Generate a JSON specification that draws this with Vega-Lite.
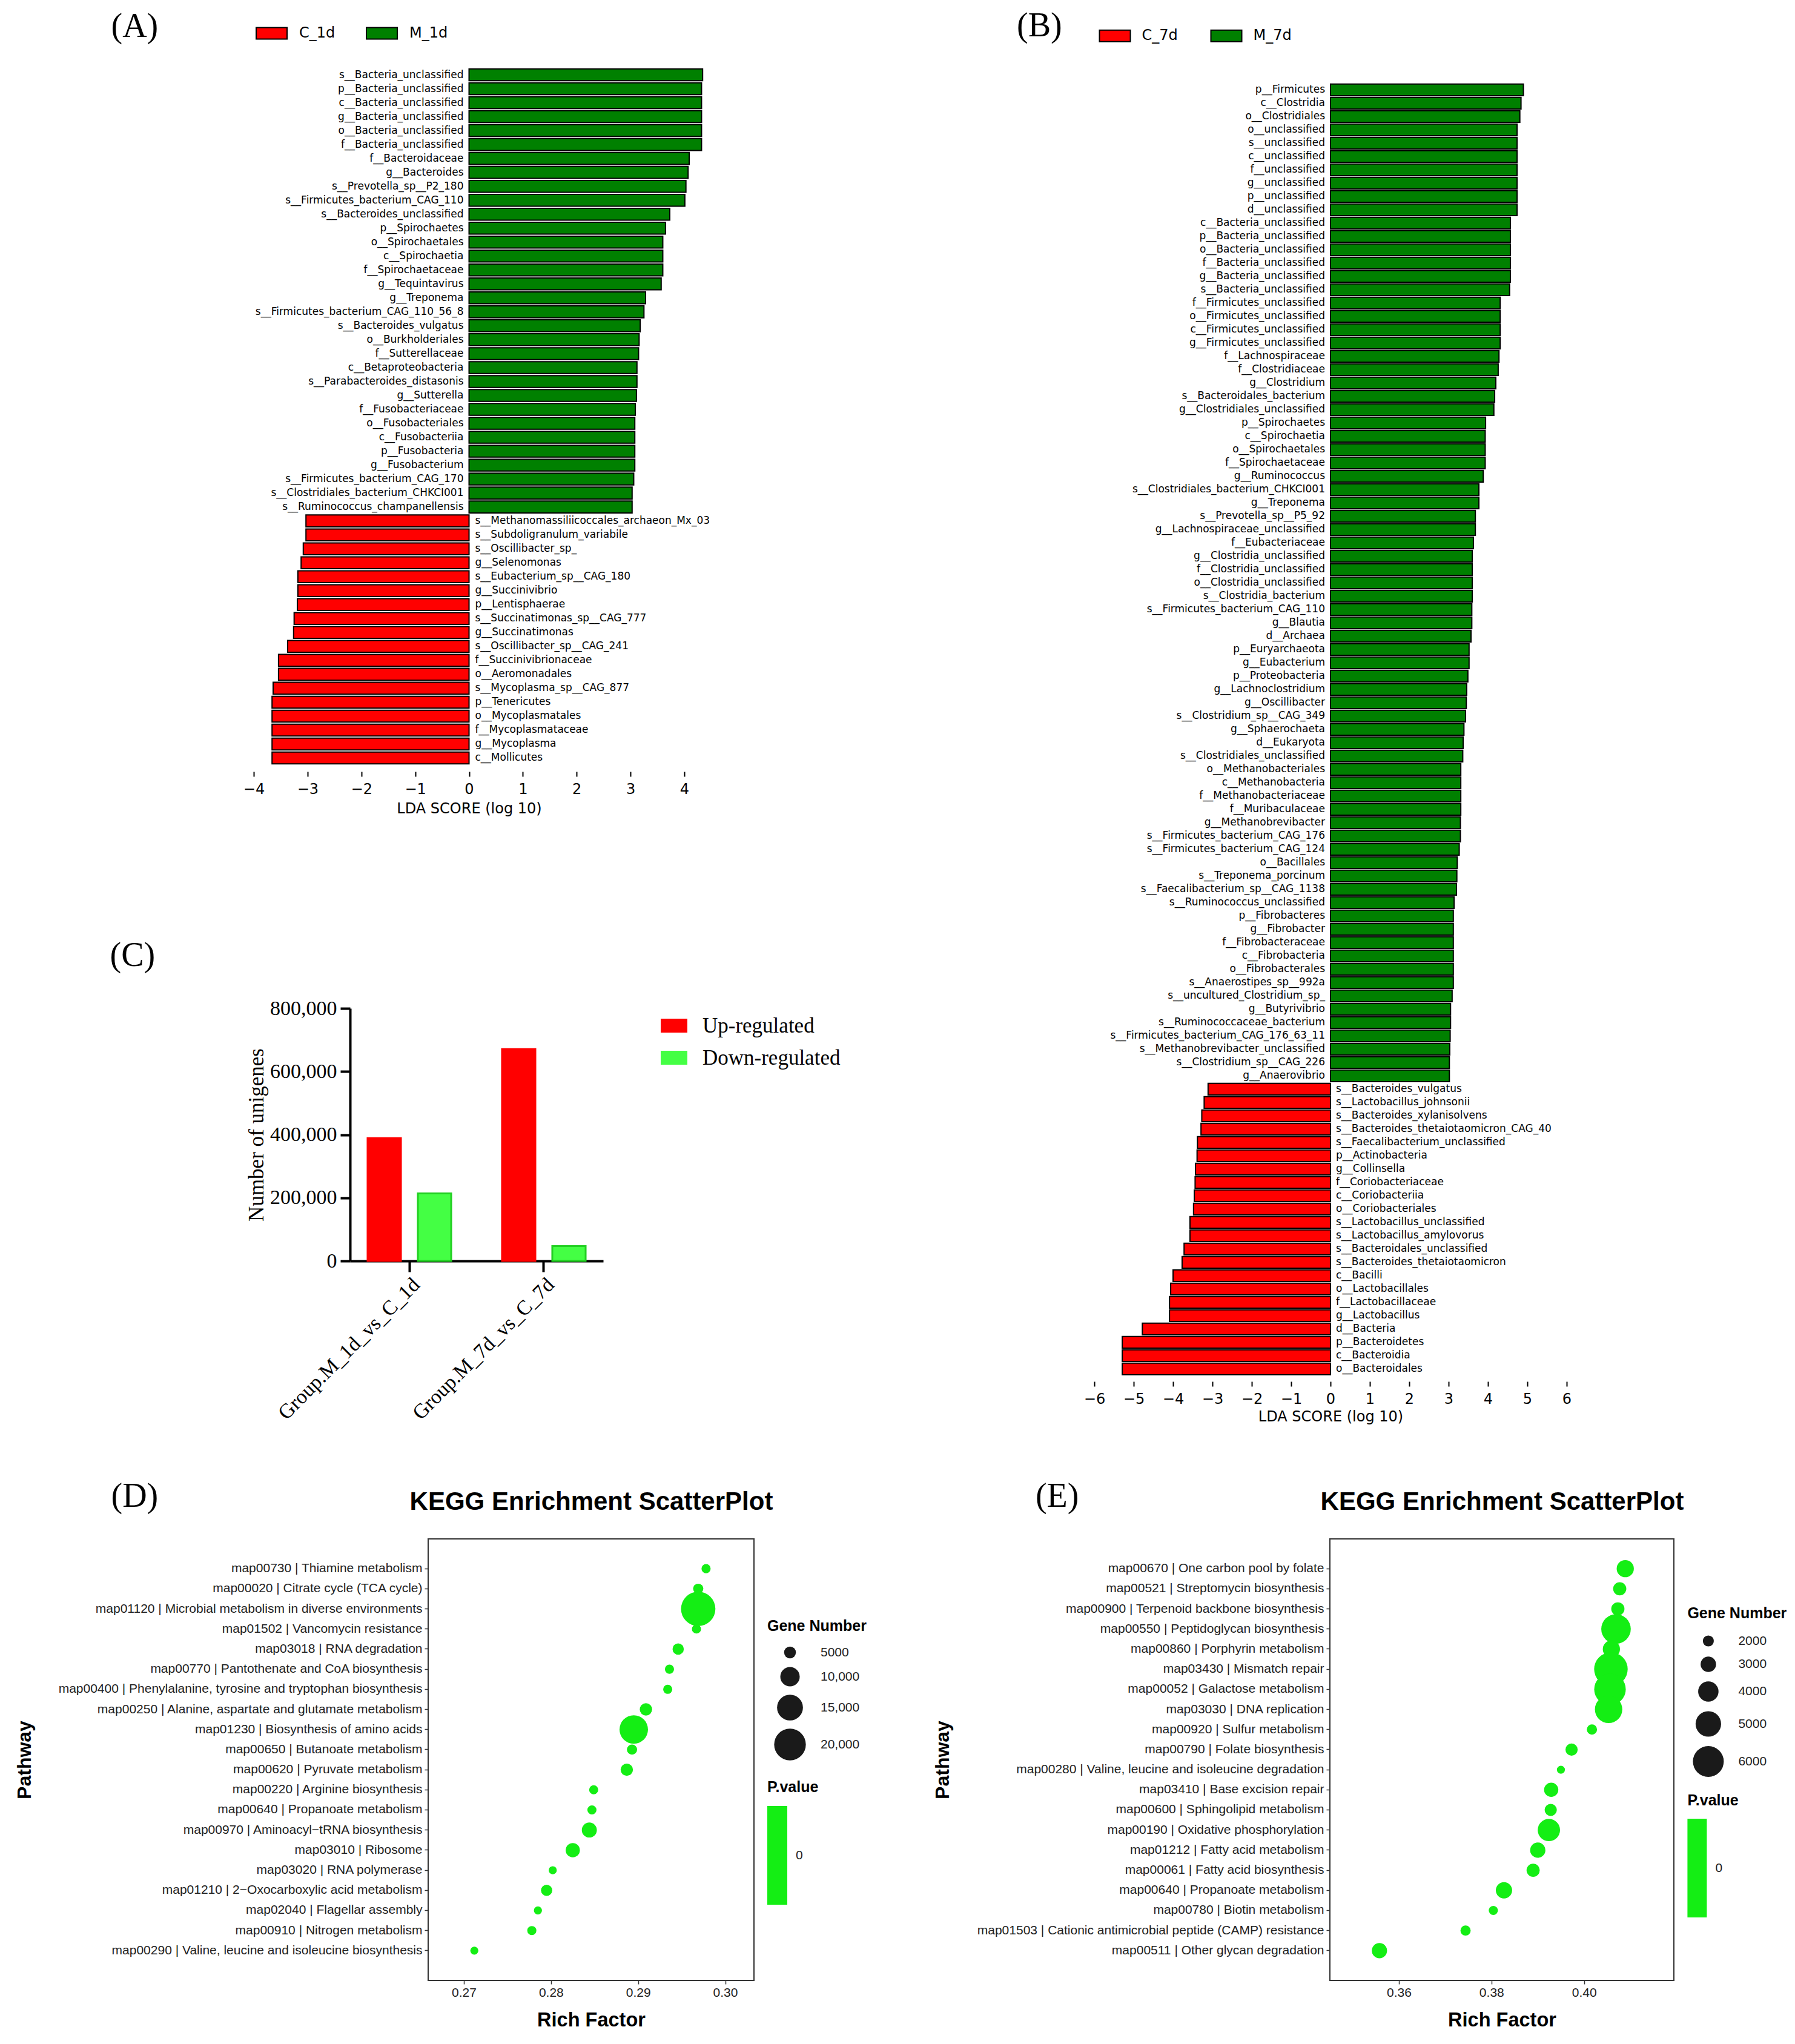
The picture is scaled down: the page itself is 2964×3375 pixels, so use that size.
{
"$schema": "https://vega.github.io/schema/vega-lite/v6.json",
"background": "white",
"padding": {"left": 23, "top": 14, "right": 5, "bottom": 5},
"usermeta": {"embedOptions": {"actions": false}},
"config": {
  "view": {"stroke": null},
  "axis": {"grid": false, "labelFlush": false, "labelOverlap": false, "labelLimit": 0},
  "legend": {"labelLimit": 0}
},
"datasets": {
"lefseA": [
{"taxon":"s__Bacteria_unclassified","lda":4.34,"group":"M_1d"},
{"taxon":"p__Bacteria_unclassified","lda":4.32,"group":"M_1d"},
{"taxon":"c__Bacteria_unclassified","lda":4.32,"group":"M_1d"},
{"taxon":"g__Bacteria_unclassified","lda":4.32,"group":"M_1d"},
{"taxon":"o__Bacteria_unclassified","lda":4.32,"group":"M_1d"},
{"taxon":"f__Bacteria_unclassified","lda":4.32,"group":"M_1d"},
{"taxon":"f__Bacteroidaceae","lda":4.09,"group":"M_1d"},
{"taxon":"g__Bacteroides","lda":4.07,"group":"M_1d"},
{"taxon":"s__Prevotella_sp__P2_180","lda":4.03,"group":"M_1d"},
{"taxon":"s__Firmicutes_bacterium_CAG_110","lda":4.01,"group":"M_1d"},
{"taxon":"s__Bacteroides_unclassified","lda":3.73,"group":"M_1d"},
{"taxon":"p__Spirochaetes","lda":3.65,"group":"M_1d"},
{"taxon":"o__Spirochaetales","lda":3.6,"group":"M_1d"},
{"taxon":"c__Spirochaetia","lda":3.6,"group":"M_1d"},
{"taxon":"f__Spirochaetaceae","lda":3.6,"group":"M_1d"},
{"taxon":"g__Tequintavirus","lda":3.57,"group":"M_1d"},
{"taxon":"g__Treponema","lda":3.28,"group":"M_1d"},
{"taxon":"s__Firmicutes_bacterium_CAG_110_56_8","lda":3.25,"group":"M_1d"},
{"taxon":"s__Bacteroides_vulgatus","lda":3.18,"group":"M_1d"},
{"taxon":"o__Burkholderiales","lda":3.16,"group":"M_1d"},
{"taxon":"f__Sutterellaceae","lda":3.15,"group":"M_1d"},
{"taxon":"c__Betaproteobacteria","lda":3.12,"group":"M_1d"},
{"taxon":"s__Parabacteroides_distasonis","lda":3.12,"group":"M_1d"},
{"taxon":"g__Sutterella","lda":3.11,"group":"M_1d"},
{"taxon":"f__Fusobacteriaceae","lda":3.09,"group":"M_1d"},
{"taxon":"o__Fusobacteriales","lda":3.08,"group":"M_1d"},
{"taxon":"c__Fusobacteriia","lda":3.08,"group":"M_1d"},
{"taxon":"p__Fusobacteria","lda":3.08,"group":"M_1d"},
{"taxon":"g__Fusobacterium","lda":3.08,"group":"M_1d"},
{"taxon":"s__Firmicutes_bacterium_CAG_170","lda":3.06,"group":"M_1d"},
{"taxon":"s__Clostridiales_bacterium_CHKCI001","lda":3.03,"group":"M_1d"},
{"taxon":"s__Ruminococcus_champanellensis","lda":3.03,"group":"M_1d"},
{"taxon":"s__Methanomassiliicoccales_archaeon_Mx_03","lda":-3.03,"group":"C_1d"},
{"taxon":"s__Subdoligranulum_variabile","lda":-3.03,"group":"C_1d"},
{"taxon":"s__Oscillibacter_sp_","lda":-3.08,"group":"C_1d"},
{"taxon":"g__Selenomonas","lda":-3.12,"group":"C_1d"},
{"taxon":"s__Eubacterium_sp__CAG_180","lda":-3.18,"group":"C_1d"},
{"taxon":"g__Succinivibrio","lda":-3.18,"group":"C_1d"},
{"taxon":"p__Lentisphaerae","lda":-3.19,"group":"C_1d"},
{"taxon":"s__Succinatimonas_sp__CAG_777","lda":-3.25,"group":"C_1d"},
{"taxon":"g__Succinatimonas","lda":-3.26,"group":"C_1d"},
{"taxon":"s__Oscillibacter_sp__CAG_241","lda":-3.37,"group":"C_1d"},
{"taxon":"f__Succinivibrionaceae","lda":-3.54,"group":"C_1d"},
{"taxon":"o__Aeromonadales","lda":-3.54,"group":"C_1d"},
{"taxon":"s__Mycoplasma_sp__CAG_877","lda":-3.64,"group":"C_1d"},
{"taxon":"p__Tenericutes","lda":-3.66,"group":"C_1d"},
{"taxon":"o__Mycoplasmatales","lda":-3.66,"group":"C_1d"},
{"taxon":"f__Mycoplasmataceae","lda":-3.66,"group":"C_1d"},
{"taxon":"g__Mycoplasma","lda":-3.66,"group":"C_1d"},
{"taxon":"c__Mollicutes","lda":-3.66,"group":"C_1d"}
],
"lefseB": [
{"taxon":"p__Firmicutes","lda":4.9,"group":"M_7d"},
{"taxon":"c__Clostridia","lda":4.84,"group":"M_7d"},
{"taxon":"o__Clostridiales","lda":4.81,"group":"M_7d"},
{"taxon":"o__unclassified","lda":4.74,"group":"M_7d"},
{"taxon":"s__unclassified","lda":4.74,"group":"M_7d"},
{"taxon":"c__unclassified","lda":4.74,"group":"M_7d"},
{"taxon":"f__unclassified","lda":4.74,"group":"M_7d"},
{"taxon":"g__unclassified","lda":4.74,"group":"M_7d"},
{"taxon":"p__unclassified","lda":4.74,"group":"M_7d"},
{"taxon":"d__unclassified","lda":4.74,"group":"M_7d"},
{"taxon":"c__Bacteria_unclassified","lda":4.57,"group":"M_7d"},
{"taxon":"p__Bacteria_unclassified","lda":4.57,"group":"M_7d"},
{"taxon":"o__Bacteria_unclassified","lda":4.57,"group":"M_7d"},
{"taxon":"f__Bacteria_unclassified","lda":4.57,"group":"M_7d"},
{"taxon":"g__Bacteria_unclassified","lda":4.57,"group":"M_7d"},
{"taxon":"s__Bacteria_unclassified","lda":4.55,"group":"M_7d"},
{"taxon":"f__Firmicutes_unclassified","lda":4.31,"group":"M_7d"},
{"taxon":"o__Firmicutes_unclassified","lda":4.31,"group":"M_7d"},
{"taxon":"c__Firmicutes_unclassified","lda":4.31,"group":"M_7d"},
{"taxon":"g__Firmicutes_unclassified","lda":4.31,"group":"M_7d"},
{"taxon":"f__Lachnospiraceae","lda":4.28,"group":"M_7d"},
{"taxon":"f__Clostridiaceae","lda":4.26,"group":"M_7d"},
{"taxon":"g__Clostridium","lda":4.2,"group":"M_7d"},
{"taxon":"s__Bacteroidales_bacterium","lda":4.17,"group":"M_7d"},
{"taxon":"g__Clostridiales_unclassified","lda":4.15,"group":"M_7d"},
{"taxon":"p__Spirochaetes","lda":3.94,"group":"M_7d"},
{"taxon":"c__Spirochaetia","lda":3.93,"group":"M_7d"},
{"taxon":"o__Spirochaetales","lda":3.93,"group":"M_7d"},
{"taxon":"f__Spirochaetaceae","lda":3.93,"group":"M_7d"},
{"taxon":"g__Ruminococcus","lda":3.88,"group":"M_7d"},
{"taxon":"s__Clostridiales_bacterium_CHKCI001","lda":3.77,"group":"M_7d"},
{"taxon":"g__Treponema","lda":3.77,"group":"M_7d"},
{"taxon":"s__Prevotella_sp__P5_92","lda":3.68,"group":"M_7d"},
{"taxon":"g__Lachnospiraceae_unclassified","lda":3.68,"group":"M_7d"},
{"taxon":"f__Eubacteriaceae","lda":3.63,"group":"M_7d"},
{"taxon":"g__Clostridia_unclassified","lda":3.6,"group":"M_7d"},
{"taxon":"f__Clostridia_unclassified","lda":3.6,"group":"M_7d"},
{"taxon":"o__Clostridia_unclassified","lda":3.6,"group":"M_7d"},
{"taxon":"s__Clostridia_bacterium","lda":3.6,"group":"M_7d"},
{"taxon":"s__Firmicutes_bacterium_CAG_110","lda":3.59,"group":"M_7d"},
{"taxon":"g__Blautia","lda":3.59,"group":"M_7d"},
{"taxon":"d__Archaea","lda":3.57,"group":"M_7d"},
{"taxon":"p__Euryarchaeota","lda":3.52,"group":"M_7d"},
{"taxon":"g__Eubacterium","lda":3.52,"group":"M_7d"},
{"taxon":"p__Proteobacteria","lda":3.49,"group":"M_7d"},
{"taxon":"g__Lachnoclostridium","lda":3.46,"group":"M_7d"},
{"taxon":"g__Oscillibacter","lda":3.45,"group":"M_7d"},
{"taxon":"s__Clostridium_sp__CAG_349","lda":3.43,"group":"M_7d"},
{"taxon":"g__Sphaerochaeta","lda":3.39,"group":"M_7d"},
{"taxon":"d__Eukaryota","lda":3.37,"group":"M_7d"},
{"taxon":"s__Clostridiales_unclassified","lda":3.36,"group":"M_7d"},
{"taxon":"o__Methanobacteriales","lda":3.31,"group":"M_7d"},
{"taxon":"c__Methanobacteria","lda":3.31,"group":"M_7d"},
{"taxon":"f__Methanobacteriaceae","lda":3.31,"group":"M_7d"},
{"taxon":"f__Muribaculaceae","lda":3.31,"group":"M_7d"},
{"taxon":"g__Methanobrevibacter","lda":3.3,"group":"M_7d"},
{"taxon":"s__Firmicutes_bacterium_CAG_176","lda":3.3,"group":"M_7d"},
{"taxon":"s__Firmicutes_bacterium_CAG_124","lda":3.27,"group":"M_7d"},
{"taxon":"o__Bacillales","lda":3.22,"group":"M_7d"},
{"taxon":"s__Treponema_porcinum","lda":3.21,"group":"M_7d"},
{"taxon":"s__Faecalibacterium_sp__CAG_1138","lda":3.2,"group":"M_7d"},
{"taxon":"s__Ruminococcus_unclassified","lda":3.14,"group":"M_7d"},
{"taxon":"p__Fibrobacteres","lda":3.12,"group":"M_7d"},
{"taxon":"g__Fibrobacter","lda":3.12,"group":"M_7d"},
{"taxon":"f__Fibrobacteraceae","lda":3.12,"group":"M_7d"},
{"taxon":"c__Fibrobacteria","lda":3.12,"group":"M_7d"},
{"taxon":"o__Fibrobacterales","lda":3.12,"group":"M_7d"},
{"taxon":"s__Anaerostipes_sp__992a","lda":3.12,"group":"M_7d"},
{"taxon":"s__uncultured_Clostridium_sp_","lda":3.09,"group":"M_7d"},
{"taxon":"g__Butyrivibrio","lda":3.05,"group":"M_7d"},
{"taxon":"s__Ruminococcaceae_bacterium","lda":3.05,"group":"M_7d"},
{"taxon":"s__Firmicutes_bacterium_CAG_176_63_11","lda":3.04,"group":"M_7d"},
{"taxon":"s__Methanobrevibacter_unclassified","lda":3.03,"group":"M_7d"},
{"taxon":"s__Clostridium_sp__CAG_226","lda":3.02,"group":"M_7d"},
{"taxon":"g__Anaerovibrio","lda":3.02,"group":"M_7d"},
{"taxon":"s__Bacteroides_vulgatus","lda":-3.11,"group":"C_7d"},
{"taxon":"s__Lactobacillus_johnsonii","lda":-3.21,"group":"C_7d"},
{"taxon":"s__Bacteroides_xylanisolvens","lda":-3.27,"group":"C_7d"},
{"taxon":"s__Bacteroides_thetaiotaomicron_CAG_40","lda":-3.29,"group":"C_7d"},
{"taxon":"s__Faecalibacterium_unclassified","lda":-3.38,"group":"C_7d"},
{"taxon":"p__Actinobacteria","lda":-3.39,"group":"C_7d"},
{"taxon":"g__Collinsella","lda":-3.43,"group":"C_7d"},
{"taxon":"f__Coriobacteriaceae","lda":-3.44,"group":"C_7d"},
{"taxon":"c__Coriobacteriia","lda":-3.46,"group":"C_7d"},
{"taxon":"o__Coriobacteriales","lda":-3.48,"group":"C_7d"},
{"taxon":"s__Lactobacillus_unclassified","lda":-3.57,"group":"C_7d"},
{"taxon":"s__Lactobacillus_amylovorus","lda":-3.57,"group":"C_7d"},
{"taxon":"s__Bacteroidales_unclassified","lda":-3.72,"group":"C_7d"},
{"taxon":"s__Bacteroides_thetaiotaomicron","lda":-3.77,"group":"C_7d"},
{"taxon":"c__Bacilli","lda":-4.0,"group":"C_7d"},
{"taxon":"o__Lactobacillales","lda":-4.06,"group":"C_7d"},
{"taxon":"f__Lactobacillaceae","lda":-4.09,"group":"C_7d"},
{"taxon":"g__Lactobacillus","lda":-4.09,"group":"C_7d"},
{"taxon":"d__Bacteria","lda":-4.78,"group":"C_7d"},
{"taxon":"p__Bacteroidetes","lda":-5.29,"group":"C_7d"},
{"taxon":"c__Bacteroidia","lda":-5.29,"group":"C_7d"},
{"taxon":"o__Bacteroidales","lda":-5.29,"group":"C_7d"}
],
"degC": [
{"comparison":"Group.M_1d_vs_C_1d","regulation":"Up-regulated","count":389000},
{"comparison":"Group.M_1d_vs_C_1d","regulation":"Down-regulated","count":214000},
{"comparison":"Group.M_7d_vs_C_7d","regulation":"Up-regulated","count":671000},
{"comparison":"Group.M_7d_vs_C_7d","regulation":"Down-regulated","count":47000}
],
"keggD": [
{"pathway":"map00730 | Thiamine metabolism","rich":0.2978,"genes":3522,"pvalue":0},
{"pathway":"map00020 | Citrate cycle (TCA cycle)","rich":0.2969,"genes":4093,"pvalue":0},
{"pathway":"map01120 | Microbial metabolism in diverse environments","rich":0.2969,"genes":22450,"pvalue":0},
{"pathway":"map01502 | Vancomycin resistance","rich":0.2967,"genes":3522,"pvalue":0},
{"pathway":"map03018 | RNA degradation","rich":0.2946,"genes":4689,"pvalue":0},
{"pathway":"map00770 | Pantothenate and CoA biosynthesis","rich":0.2936,"genes":3522,"pvalue":0},
{"pathway":"map00400 | Phenylalanine, tyrosine and tryptophan biosynthesis","rich":0.2934,"genes":3522,"pvalue":0},
{"pathway":"map00250 | Alanine, aspartate and glutamate metabolism","rich":0.2909,"genes":5318,"pvalue":0},
{"pathway":"map01230 | Biosynthesis of amino acids","rich":0.2895,"genes":17173,"pvalue":0},
{"pathway":"map00650 | Butanoate metabolism","rich":0.2893,"genes":4093,"pvalue":0},
{"pathway":"map00620 | Pyruvate metabolism","rich":0.2887,"genes":5318,"pvalue":0},
{"pathway":"map00220 | Arginine biosynthesis","rich":0.2849,"genes":3522,"pvalue":0},
{"pathway":"map00640 | Propanoate metabolism","rich":0.2847,"genes":3522,"pvalue":0},
{"pathway":"map00970 | Aminoacyl−tRNA biosynthesis","rich":0.2844,"genes":6989,"pvalue":0},
{"pathway":"map03010 | Ribosome","rich":0.2825,"genes":6470,"pvalue":0},
{"pathway":"map03020 | RNA polymerase","rich":0.2802,"genes":2987,"pvalue":0},
{"pathway":"map01210 | 2−Oxocarboxylic acid metabolism","rich":0.2795,"genes":4689,"pvalue":0},
{"pathway":"map02040 | Flagellar assembly","rich":0.2785,"genes":2987,"pvalue":0},
{"pathway":"map00910 | Nitrogen metabolism","rich":0.2778,"genes":3522,"pvalue":0},
{"pathway":"map00290 | Valine, leucine and isoleucine biosynthesis","rich":0.2712,"genes":2987,"pvalue":0}
],
"keggE": [
{"pathway":"map00670 | One carbon pool by folate","rich":0.4089,"genes":3360,"pvalue":0},
{"pathway":"map00521 | Streptomycin biosynthesis","rich":0.4077,"genes":2512,"pvalue":0},
{"pathway":"map00900 | Terpenoid backbone biosynthesis","rich":0.4073,"genes":2512,"pvalue":0},
{"pathway":"map00550 | Peptidoglycan biosynthesis","rich":0.4069,"genes":5750,"pvalue":0},
{"pathway":"map00860 | Porphyrin metabolism","rich":0.4059,"genes":3360,"pvalue":0},
{"pathway":"map03430 | Mismatch repair","rich":0.4058,"genes":6491,"pvalue":0},
{"pathway":"map00052 | Galactose metabolism","rich":0.4056,"genes":6117,"pvalue":0},
{"pathway":"map03030 | DNA replication","rich":0.4053,"genes":5350,"pvalue":0},
{"pathway":"map00920 | Sulfur metabolism","rich":0.4017,"genes":1798,"pvalue":0},
{"pathway":"map00790 | Folate biosynthesis","rich":0.3973,"genes":2282,"pvalue":0},
{"pathway":"map00280 | Valine, leucine and isoleucine degradation","rich":0.395,"genes":1176,"pvalue":0},
{"pathway":"map03410 | Base excision repair","rich":0.3929,"genes":2740,"pvalue":0},
{"pathway":"map00600 | Sphingolipid metabolism","rich":0.3928,"genes":2282,"pvalue":0},
{"pathway":"map00190 | Oxidative phosphorylation","rich":0.3924,"genes":4389,"pvalue":0},
{"pathway":"map01212 | Fatty acid metabolism","rich":0.39,"genes":2958,"pvalue":0},
{"pathway":"map00061 | Fatty acid biosynthesis","rich":0.389,"genes":2512,"pvalue":0},
{"pathway":"map00640 | Propanoate metabolism","rich":0.3827,"genes":3173,"pvalue":0},
{"pathway":"map00780 | Biotin metabolism","rich":0.3804,"genes":1506,"pvalue":0},
{"pathway":"map01503 | Cationic antimicrobial peptide (CAMP) resistance","rich":0.3744,"genes":1798,"pvalue":0},
{"pathway":"map00511 | Other glycan degradation","rich":0.3558,"genes":2958,"pvalue":0}
]
},
"spacing": 90,
"resolve": {"scale": {"color": "independent", "size": "independent"}, "legend": {"color": "independent", "size": "independent"}},
"vconcat": [
{
 "spacing": 290,
 "resolve": {"scale": {"color": "independent", "size": "independent"}, "legend": {"color": "independent", "size": "independent"}},
 "hconcat": [
  {
   "spacing": 202,
   "resolve": {"scale": {"color": "independent", "size": "independent"}, "legend": {"color": "independent", "size": "independent"}},
   "vconcat": [
    {
     "bounds": "flush", "spacing": 0,
     "resolve": {"scale": {"color": "independent", "size": "independent"}, "legend": {"color": "independent", "size": "independent"}},
     "hconcat": [
      {"width": 394, "height": 1, "data": {"values": []}, "mark": {"type": "point", "opacity": 0}, "encoding": {}},
      {
       "width": 711, "height": 1151,
       "data": {"name": "lefseA"},
       "resolve": {"axis": {"x": "independent"}},
       "layer": [
        {
         "mark": {"type": "bar", "stroke": "black", "strokeWidth": 2},
         "encoding": {
          "y": {"field": "taxon", "type": "nominal", "sort": null,
            "scale": {"paddingInner": 0.15, "paddingOuter": 0.075},
            "axis": null},
          "x": {"field": "lda", "type": "quantitative",
            "scale": {"domain": [-4, 4], "nice": false},
            "axis": {"values": [-4,-3,-2,-1,0,1,2,3,4], "format": "d", "domain": false, "offset": 11, "tickSize": 8, "tickWidth": 2, "tickColor": "black", "labelFont": "DejaVu Sans", "labelFontSize": 24, "labelColor": "black", "labelPadding": 9, "title": "LDA SCORE (log 10)", "titleFont": "DejaVu Sans", "titleFontSize": 24, "titleFontWeight": "normal", "titleColor": "black", "titleX": 355.5, "titleY": 61, "titleAlign": "center", "titleBaseline": "middle"}},
          "color": {"field": "group", "type": "nominal",
            "scale": {"domain": ["C_1d", "M_1d"], "range": ["#FF0000", "#008000"]},
            "legend": {"orient": "none", "legendX": 3, "legendY": -83.5, "direction": "horizontal", "title": null, "padding": 0, "symbolType": "M-1,-0.3725H1V0.3725H-1Z", "symbolSize": 2601, "symbolStrokeColor": "black", "symbolStrokeWidth": 2, "symbolOpacity": 1, "labelFont": "DejaVu Sans", "labelFontSize": 24, "labelColor": "black", "labelOffset": 19, "columnPadding": 47}}
         }
        },
        {
         "mark": {"type": "text", "font": "DejaVu Sans", "fontSize": 17, "color": "black", "baseline": "middle",
           "align": {"expr": "datum.lda > 0 ? 'right' : 'left'"},
           "dx": {"expr": "datum.lda > 0 ? -9 : 10"}},
         "encoding": {
          "y": {"field": "taxon", "type": "nominal", "sort": null, "axis": null},
          "x": {"datum": 0, "type": "quantitative",
            "axis": {"orient": "top", "labels": false, "ticks": false, "domain": false, "title": "(A)", "titleFont": "Liberation Serif", "titleFontSize": 56, "titleFontWeight": "normal", "titleColor": "black", "titleAngle": 0, "titleAlign": "left", "titleBaseline": "alphabetic", "titleX": -236, "titleY": -52}},
          "text": {"field": "taxon", "type": "nominal"}
         }
        }
       ]
      }
     ]
    },
    {
     "bounds": "flush", "spacing": 0,
     "resolve": {"scale": {"color": "independent", "size": "independent"}, "legend": {"color": "independent", "size": "independent"}},
     "hconcat": [
      {"width": 553, "height": 1, "data": {"values": []}, "mark": {"type": "point", "opacity": 0}, "encoding": {}},
      {
       "width": 418, "height": 417,
       "data": {"name": "degC"},
       "resolve": {"axis": {"x": "independent", "y": "independent"}},
       "layer": [
        {
         "mark": {"type": "bar", "strokeWidth": 3},
         "encoding": {
          "x": {"field": "comparison", "type": "nominal", "sort": null,
            "scale": {"paddingInner": 0.117, "paddingOuter": 0},
            "axis": {"title": null, "domainColor": "black", "domainWidth": 4, "tickColor": "black", "tickWidth": 4, "tickSize": 18, "labelAngle": -45, "labelFont": "Liberation Serif", "labelFontSize": 34, "labelColor": "black", "labelPadding": 4}},
          "xOffset": {"field": "regulation", "type": "nominal", "sort": null,
            "scale": {"domain": ["Up-regulated", "Down-regulated"], "paddingInner": 0.337, "paddingOuter": 0.349}},
          "y": {"field": "count", "type": "quantitative",
            "scale": {"domain": [0, 800000], "nice": false},
            "axis": {"values": [0, 200000, 400000, 600000, 800000], "format": ",d", "domainColor": "black", "domainWidth": 4, "tickColor": "black", "tickWidth": 4, "tickSize": 16, "labelFont": "Liberation Serif", "labelFontSize": 34, "labelColor": "black", "labelPadding": 6, "title": "Number of unigenes", "titleFont": "Liberation Serif", "titleFontSize": 35, "titleFontWeight": "normal", "titleColor": "black", "titleAngle": -90, "titleAlign": "center", "titleBaseline": "middle", "titleX": -155, "titleY": 208.5}},
          "color": {"field": "regulation", "type": "nominal", "sort": null,
            "scale": {"domain": ["Up-regulated", "Down-regulated"], "range": ["#FF0000", "#44FF44"]},
            "legend": {"orient": "none", "legendX": 513, "legendY": 6.5, "direction": "vertical", "title": null, "padding": 0, "symbolType": "M-1,-0.523H1V0.523H-1Z", "symbolSize": 1936, "symbolStrokeWidth": 0, "symbolOpacity": 1, "labelFont": "Liberation Serif", "labelFontSize": 35, "labelColor": "black", "labelOffset": 25, "rowPadding": 13}},
          "stroke": {"condition": {"test": "datum.regulation === 'Down-regulated'", "value": "#22D022"}, "value": "#FF0000"}
         }
        },
        {
         "mark": {"type": "bar", "opacity": 0},
         "encoding": {
          "x": {"field": "comparison", "type": "nominal", "sort": null,
            "axis": {"orient": "top", "labels": false, "ticks": false, "domain": false, "title": "(C)", "titleFont": "Liberation Serif", "titleFontSize": 56, "titleFontWeight": "normal", "titleColor": "black", "titleAngle": 0, "titleAlign": "left", "titleBaseline": "alphabetic", "titleX": -397, "titleY": -71}},
          "xOffset": {"field": "regulation", "type": "nominal", "sort": null},
          "y": {"field": "count", "type": "quantitative", "axis": null}
         }
        }
       ]
      }
     ]
    }
   ]
  },
  {
   "width": 780, "height": 2158,
   "data": {"name": "lefseB"},
   "resolve": {"axis": {"x": "independent"}},
   "layer": [
    {
     "mark": {"type": "bar", "stroke": "black", "strokeWidth": 2},
     "encoding": {
      "y": {"field": "taxon", "type": "nominal", "sort": null,
        "scale": {"paddingInner": 0.12, "paddingOuter": 0.6055, "align": 1},
        "axis": null},
      "x": {"field": "lda", "type": "quantitative",
        "scale": {"domain": [-6, 6], "nice": false},
        "axis": {"values": [-6,-5,-4,-3,-2,-1,0,1,2,3,4,5,6], "format": "d", "domain": false, "offset": 11, "tickSize": 8, "tickWidth": 2, "tickColor": "black", "labelFont": "DejaVu Sans", "labelFontSize": 24, "labelColor": "black", "labelPadding": 9, "title": "LDA SCORE (log 10)", "titleFont": "DejaVu Sans", "titleFontSize": 24, "titleFontWeight": "normal", "titleColor": "black", "titleX": 390, "titleY": 58, "titleAlign": "center", "titleBaseline": "middle"}},
      "color": {"field": "group", "type": "nominal",
        "scale": {"domain": ["C_7d", "M_7d"], "range": ["#FF0000", "#008000"]},
        "legend": {"orient": "none", "legendX": 7.5, "legendY": -79.2, "direction": "horizontal", "title": null, "padding": 0, "symbolType": "M-1,-0.3725H1V0.3725H-1Z", "symbolSize": 2601, "symbolStrokeColor": "black", "symbolStrokeWidth": 2, "symbolOpacity": 1, "labelFont": "DejaVu Sans", "labelFontSize": 24, "labelColor": "black", "labelOffset": 18, "columnPadding": 50}}
     }
    },
    {
     "mark": {"type": "text", "font": "DejaVu Sans", "fontSize": 17, "color": "black", "baseline": "middle",
       "align": {"expr": "datum.lda > 0 ? 'right' : 'left'"},
       "dx": {"expr": "datum.lda > 0 ? -9 : 9"}},
     "encoding": {
      "y": {"field": "taxon", "type": "nominal", "sort": null, "axis": null},
      "x": {"datum": 0, "type": "quantitative",
        "axis": {"orient": "top", "labels": false, "ticks": false, "domain": false, "title": "(B)", "titleFont": "Liberation Serif", "titleFontSize": 56, "titleFontWeight": "normal", "titleColor": "black", "titleAngle": 0, "titleAlign": "left", "titleBaseline": "alphabetic", "titleX": -128.5, "titleY": -52.2}},
      "text": {"field": "taxon", "type": "nominal"}
     }
    }
   ]
  }
 ]
},
{
 "bounds": "flush", "spacing": 0,
 "resolve": {"scale": {"color": "independent", "size": "independent"}, "legend": {"color": "independent", "size": "independent"}},
 "hconcat": [
  {"width": 682, "height": 1, "data": {"values": []}, "mark": {"type": "point", "opacity": 0}, "encoding": {}},
  {
   "width": 538, "height": 729,
   "view": {"stroke": "#333333", "strokeWidth": 2},
   "data": {"name": "keggD"},
   "resolve": {"axis": {"x": "independent", "y": "independent"}},
   "layer": [
    {
     "mark": {"type": "circle", "opacity": 1},
     "encoding": {
      "x": {"field": "rich", "type": "quantitative",
        "scale": {"domain": [0.2659, 0.3033], "nice": false, "zero": false},
        "axis": {"values": [0.27, 0.28, 0.29, 0.30], "format": ".2f", "domain": false, "tickColor": "#333333", "tickSize": 6, "tickWidth": 1.5, "labelFont": "Liberation Sans", "labelFontSize": 21, "labelColor": "#222222", "labelPadding": 3, "title": "Rich Factor", "titleFont": "Liberation Sans", "titleFontSize": 32.5, "titleFontWeight": "bold", "titleColor": "black", "titleX": 269, "titleY": 65, "titleAlign": "center", "titleBaseline": "middle"}},
      "y": {"field": "pathway", "type": "nominal", "sort": null,
        "scale": {"type": "band", "paddingInner": 0.04, "paddingOuter": 1},
        "axis": {"domain": false, "tickColor": "#333333", "tickSize": 6, "tickWidth": 1.5, "labelFont": "Liberation Sans", "labelFontSize": 21, "labelColor": "#222222", "labelPadding": 4, "title": "Pathway", "titleFont": "Liberation Sans", "titleFontSize": 32, "titleFontWeight": "bold", "titleColor": "black", "titleAngle": -90, "titleAlign": "center", "titleBaseline": "middle", "titleX": -666.3, "titleY": 364.5}},
      "size": {"field": "genes", "type": "quantitative",
        "scale": {"type": "pow", "exponent": 1.4, "domain": [5000, 20000], "range": [380, 2734]},
        "legend": {"orient": "none", "legendX": 560, "legendY": 132, "title": "Gene Number", "titleFont": "Liberation Sans", "titleFontSize": 25, "titleFontWeight": "bold", "titleColor": "black", "titlePadding": 20, "padding": 0, "values": [5000, 10000, 15000, 20000], "labelExpr": "datum.value < 10000 ? '' + datum.value : format(datum.value, ',')", "labelFont": "Liberation Sans", "labelFontSize": 21, "labelColor": "#222222", "labelOffset": 24, "symbolOffset": 11, "rowPadding": 13, "symbolType": "circle", "symbolFillColor": "#1a1a1a", "symbolStrokeColor": "#1a1a1a", "symbolStrokeWidth": 0, "symbolOpacity": 1}},
      "color": {"field": "pvalue", "type": "quantitative",
        "scale": {"domain": [-1, 1], "range": ["#14EE14", "#14EE14"]},
        "legend": {"orient": "none", "legendX": 560, "legendY": 398, "type": "gradient", "direction": "vertical", "title": "P.value", "titleFont": "Liberation Sans", "titleFontSize": 25, "titleFontWeight": "bold", "titleColor": "black", "titlePadding": 18, "padding": 0, "gradientLength": 163, "gradientThickness": 33, "gradientStrokeWidth": 0, "values": [0], "labelFont": "Liberation Sans", "labelFontSize": 21, "labelColor": "#222222", "labelOffset": 14}}
     }
    },
    {
     "mark": {"type": "circle", "opacity": 0},
     "encoding": {
      "x": {"field": "rich", "type": "quantitative",
        "axis": {"orient": "top", "labels": false, "ticks": false, "domain": false, "title": "KEGG Enrichment ScatterPlot", "titleFont": "Liberation Sans", "titleFontSize": 42, "titleFontWeight": "bold", "titleColor": "black", "titleAngle": 0, "titleAlign": "center", "titleBaseline": "alphabetic", "titleX": 269, "titleY": -49}},
      "y": {"field": "pathway", "type": "nominal", "sort": null,
        "scale": {"type": "band", "paddingInner": 0.04, "paddingOuter": 1},
        "axis": {"orient": "right", "labels": false, "ticks": false, "domain": false, "title": "(D)", "titleFont": "Liberation Serif", "titleFontSize": 56, "titleFontWeight": "normal", "titleColor": "black", "titleAngle": 0, "titleAlign": "left", "titleBaseline": "alphabetic", "titleX": -1062, "titleY": -54}}
     }
    }
   ]
  },
  {"width": 950.6, "height": 1, "data": {"values": []}, "mark": {"type": "point", "opacity": 0}, "encoding": {}},
  {
   "width": 568, "height": 729,
   "view": {"stroke": "#333333", "strokeWidth": 2},
   "data": {"name": "keggE"},
   "resolve": {"axis": {"x": "independent", "y": "independent"}},
   "layer": [
    {
     "mark": {"type": "circle", "opacity": 1},
     "encoding": {
      "x": {"field": "rich", "type": "quantitative",
        "scale": {"domain": [0.3451, 0.4194], "nice": false, "zero": false},
        "axis": {"values": [0.36, 0.38, 0.40], "format": ".2f", "domain": false, "tickColor": "#333333", "tickSize": 6, "tickWidth": 1.5, "labelFont": "Liberation Sans", "labelFontSize": 21, "labelColor": "#222222", "labelPadding": 3, "title": "Rich Factor", "titleFont": "Liberation Sans", "titleFontSize": 32.5, "titleFontWeight": "bold", "titleColor": "black", "titleX": 284, "titleY": 65, "titleAlign": "center", "titleBaseline": "middle"}},
      "y": {"field": "pathway", "type": "nominal", "sort": null,
        "scale": {"type": "band", "paddingInner": 0.04, "paddingOuter": 1},
        "axis": {"domain": false, "tickColor": "#333333", "tickSize": 6, "tickWidth": 1.5, "labelFont": "Liberation Sans", "labelFontSize": 21, "labelColor": "#222222", "labelPadding": 4, "title": "Pathway", "titleFont": "Liberation Sans", "titleFontSize": 32, "titleFontWeight": "bold", "titleColor": "black", "titleAngle": -90, "titleAlign": "center", "titleBaseline": "middle", "titleX": -639.6, "titleY": 364.5}},
      "size": {"field": "genes", "type": "quantitative",
        "scale": {"type": "pow", "exponent": 2.2, "domain": [2000, 6000], "range": [330, 2597]},
        "legend": {"orient": "none", "legendX": 590.4, "legendY": 111, "title": "Gene Number", "titleFont": "Liberation Sans", "titleFontSize": 25, "titleFontWeight": "bold", "titleColor": "black", "titlePadding": 22, "padding": 0, "values": [2000, 3000, 4000, 5000, 6000], "labelExpr": "'' + datum.value", "labelFont": "Liberation Sans", "labelFontSize": 21, "labelColor": "#222222", "labelOffset": 24, "symbolOffset": 9, "rowPadding": 15, "symbolType": "circle", "symbolFillColor": "#1a1a1a", "symbolStrokeColor": "#1a1a1a", "symbolStrokeWidth": 0, "symbolOpacity": 1}},
      "color": {"field": "pvalue", "type": "quantitative",
        "scale": {"domain": [-1, 1], "range": ["#14EE14", "#14EE14"]},
        "legend": {"orient": "none", "legendX": 590.4, "legendY": 420, "type": "gradient", "direction": "vertical", "title": "P.value", "titleFont": "Liberation Sans", "titleFontSize": 25, "titleFontWeight": "bold", "titleColor": "black", "titlePadding": 17, "padding": 0, "gradientLength": 163, "gradientThickness": 32, "gradientStrokeWidth": 0, "values": [0], "labelFont": "Liberation Sans", "labelFontSize": 21, "labelColor": "#222222", "labelOffset": 14}}
     }
    },
    {
     "mark": {"type": "circle", "opacity": 0},
     "encoding": {
      "x": {"field": "rich", "type": "quantitative",
        "axis": {"orient": "top", "labels": false, "ticks": false, "domain": false, "title": "KEGG Enrichment ScatterPlot", "titleFont": "Liberation Sans", "titleFontSize": 42, "titleFontWeight": "bold", "titleColor": "black", "titleAngle": 0, "titleAlign": "center", "titleBaseline": "alphabetic", "titleX": 284, "titleY": -49}},
      "y": {"field": "pathway", "type": "nominal", "sort": null,
        "scale": {"type": "band", "paddingInner": 0.04, "paddingOuter": 1},
        "axis": {"orient": "right", "labels": false, "ticks": false, "domain": false, "title": "(E)", "titleFont": "Liberation Serif", "titleFontSize": 56, "titleFontWeight": "normal", "titleColor": "black", "titleAngle": 0, "titleAlign": "left", "titleBaseline": "alphabetic", "titleX": -1054.6, "titleY": -54}}
     }
    }
   ]
  }
 ]
}
]
}
